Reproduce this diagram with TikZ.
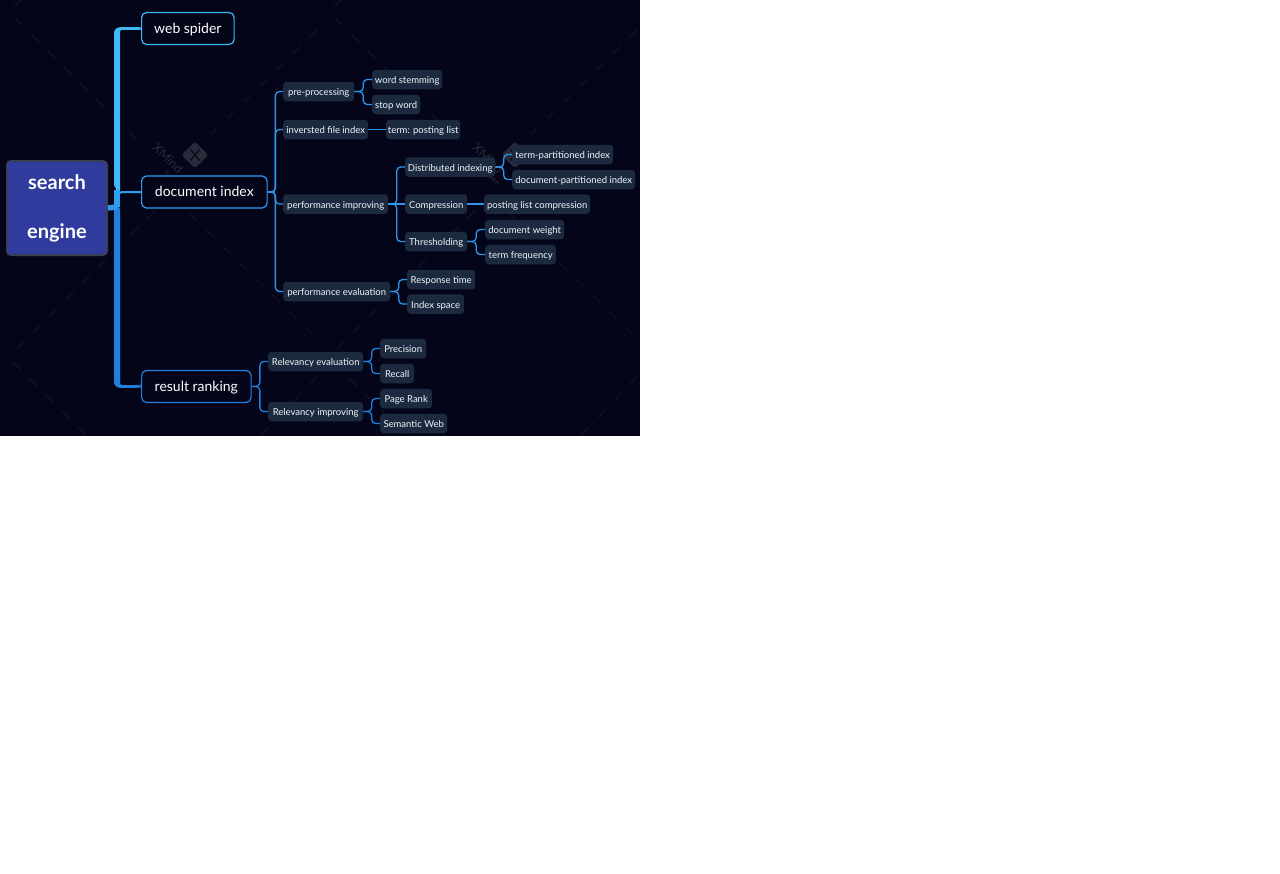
\documentclass[tikz,border=0pt]{standalone}
\usepackage{fontspec}
\setmainfont{Lato}
\newfontfamily\cjkfont{Noto Sans CJK SC}
\usepackage{xcolor}
\usetikzlibrary{calc}

\definecolor{canvasbg}{HTML}{05051A}
\definecolor{latticegray}{HTML}{16162A}
\definecolor{markgray}{HTML}{2A2A38}
\definecolor{rootblue}{HTML}{2F3C9E}
\definecolor{rootedge}{HTML}{3A3F55}
\definecolor{leafbg}{HTML}{1C2A40}
\definecolor{leaftext}{HTML}{F0F4F8}
\definecolor{skyline}{HTML}{3FB9F5}
\definecolor{midline}{HTML}{2AA0EE}
\definecolor{deepline}{HTML}{1F80DE}
\definecolor{subline}{HTML}{2E96EA}

\tikzset{
  x=1pt, y=-1pt,
  rootbox/.style={draw=rootedge, line width=1.8pt, fill=rootblue, rounded corners=4pt,
    text=white, align=center, inner sep=0pt, font=\fontsize{20}{49}\selectfont\bfseries,
    minimum width=100.2pt, minimum height=94.2pt},
  mainbox/.style={draw=#1, line width=1.2pt, fill=canvasbg, rounded corners=5pt, anchor=west,
    text=white, inner sep=0pt, font=\fontsize{14}{16}\selectfont, minimum height=32pt,
    text height=11pt, text depth=2pt},
  leafbox/.style={fill=leafbg, rounded corners=3.5pt, anchor=west, text=leaftext, inner sep=0pt,
    font=\fontsize{9.5}{12}\selectfont, minimum height=19.5pt,
    text height=10.4pt, text depth=2pt},
  fork/.style={line width=1.3pt, rounded corners=4pt, draw=#1,
    to path={let \p1=(\tikztostart), \p2=(\tikztotarget) in
      (\p1) -- ({(\x1+\x2)/2},\y1) |- (\p2)}},
  fork/.default=subline,
  mainlink/.style={line width=2pt, rounded corners=5pt, draw=#1},
  lattice/.style={draw=latticegray, line width=.8pt, dash pattern=on 11pt off 12pt},
}

\begin{document}
\begin{tikzpicture}
\useasboundingbox (0,0) rectangle (1280,873);
\fill[white] (0,0) rectangle (1280,873);
\fill[canvasbg] (0,0) rectangle (640,436);

% Watermark tiles
\begin{scope}
\clip (0,0) rectangle (640,436);
\foreach \tile in {0,320} {
  \begin{scope}[shift={(\tile,0)}]
  \draw[lattice] (15,18) -- (145,148);
  \draw[lattice] (190,214) -- (317,339);
  \draw[lattice] (13,362) -- (87,436);
  \draw[lattice] (155,211) -- (13,353);
  \draw[lattice] (317,30) -- (210,135);
  \draw[lattice] (22,0) -- (13,7);
  \draw[lattice] (317,377) -- (260,436);
  \node[rotate=45, fill=markgray, rounded corners=3pt, minimum size=19pt, inner sep=0pt] (mark\tile) at (195,155) {};
  \draw[canvasbg, line width=1.1pt] ($(mark\tile)+(-4.5,-5.5)$) -- ($(mark\tile)+(4.5,5.5)$);
  \draw[canvasbg, line width=1.1pt] ($(mark\tile)+(4.5,-5.5)$) -- ($(mark\tile)+(-4.5,5.5)$);
  \node[rotate=-45, text=markgray, font=\fontsize{12.5}{14}\selectfont] (brand\tile) at (168,158) {XMind};
  \node[rotate=-45, text=markgray, font=\cjkfont\fontsize{4.5}{5}\selectfont] (trial\tile) at (172,178) {试用模式};
  \end{scope}
}
\end{scope}

% Root and main topics
\node[rootbox] (root) at (57,208) {search\\engine};
\node[mainbox=skyline, minimum width=92.5pt] (spider) at (141,28.5) {web spider};
\node[mainbox=midline, minimum width=125.5pt] (docindex) at (141,192) {document index};
\node[mainbox=deepline, minimum width=109.5pt] (ranking) at (141,386.5) {result ranking};

% Document index topics
\node[leafbox, minimum width=71pt] (preproc) at (283,91.5) {pre-processing};
\node[leafbox, minimum width=70pt] (stemming) at (372,79.5) {word stemming};
\node[leafbox, minimum width=48pt] (stopword) at (372,104.5) {stop word};
\node[leafbox, minimum width=85pt] (inverted) at (283,129.5) {inversted file index};
\node[leafbox, minimum width=74pt] (posting) at (386,129.5) {term: posting list};
\node[leafbox, minimum width=105pt] (improving) at (283,204) {performance improving};
\node[leafbox, minimum width=90pt] (distributed) at (405,167) {Distributed indexing};
\node[leafbox, minimum width=101pt] (termpart) at (512,154.5) {term-partitioned index};
\node[leafbox, minimum width=123pt] (docpart) at (512,179.5) {document-partitioned index};
\node[leafbox, minimum width=62pt] (compression) at (405,204) {Compression};
\node[leafbox, minimum width=106pt] (listcomp) at (484,204) {posting list compression};
\node[leafbox, minimum width=62pt] (thresholding) at (405,241.5) {Thresholding};
\node[leafbox, minimum width=79pt] (docweight) at (485,229.5) {document weight};
\node[leafbox, minimum width=71pt] (termfreq) at (485,254.5) {term frequency};
\node[leafbox, minimum width=107pt] (evaluation) at (283,291.5) {performance evaluation};
\node[leafbox, minimum width=68pt] (response) at (407,279.5) {Response time};
\node[leafbox, minimum width=57pt] (indexspace) at (407,304) {Index space};

% Result ranking topics
\node[leafbox, minimum width=95pt] (relevaluation) at (268,361.5) {Relevancy evaluation};
\node[leafbox, minimum width=95pt] (relimproving) at (268,411.5) {Relevancy improving};
\node[leafbox, minimum width=46pt] (precision) at (380,348.5) {Precision};
\node[leafbox, minimum width=34pt] (recall) at (380,373.5) {Recall};
\node[leafbox, minimum width=52pt] (pagerank) at (380,398.5) {Page Rank};
\node[leafbox, minimum width=67pt] (semantic) at (380,423.5) {Semantic Web};

% Main connectors
\coordinate (spine) at (117,207);
\draw[mainlink=skyline] (spine) |- (spider.west);
\draw[mainlink=midline] (spine) |- (docindex.west);
\draw[mainlink=deepline] (spine) |- (ranking.west);
\fill[skyline] ($(spider.west)+(0,-1.3)$) [rounded corners=6pt] -| (114,190) [sharp corners] -- (120,190) [rounded corners=2pt] |- ($(spider.west)+(0,1.3)$) -- cycle;
\fill[midline] (114,190) rectangle (120,207);
\fill[deepline] (114,207) [rounded corners=6pt] |- ($(ranking.west)+(0,1.3)$) [sharp corners] -- ($(ranking.west)+(0,-1.3)$) [rounded corners=2pt] -| (120,207) -- cycle;
\draw[line width=5.5pt, draw=subline] (root.east) -- (spine);

% Forks
\foreach \from/\to in {docindex/preproc, docindex/inverted, docindex/improving, docindex/evaluation,
  preproc/stemming, preproc/stopword, improving/distributed, improving/thresholding,
  distributed/termpart, distributed/docpart, thresholding/docweight, thresholding/termfreq,
  evaluation/response, evaluation/indexspace}
  \draw[fork] (\from.east) to (\to.west);
\foreach \from/\to in {inverted/posting, improving/compression, compression/listcomp}
  \draw[line width=1.3pt, draw=subline] (\from.east) -- (\to.west);
\foreach \from/\to in {ranking/relevaluation, ranking/relimproving, relevaluation/precision,
  relevaluation/recall, relimproving/pagerank, relimproving/semantic}
  \draw[fork=deepline] (\from.east) to (\to.west);
\end{tikzpicture}
\end{document}
